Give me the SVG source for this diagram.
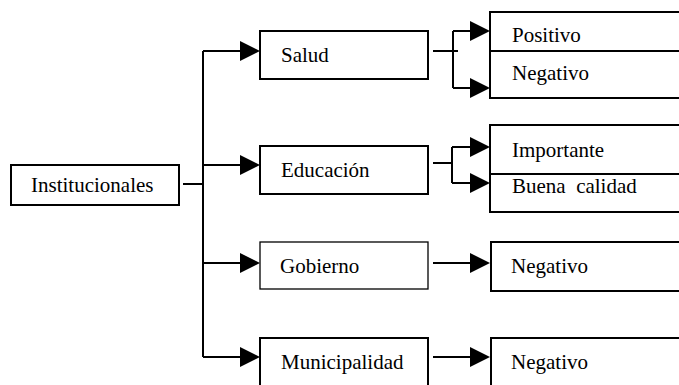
<svg xmlns="http://www.w3.org/2000/svg" width="679" height="385" viewBox="0 0 679 385">
<defs>
<style>
.box{fill:#fff;stroke:#000;stroke-width:2}
.thin{fill:#fff;stroke:#000;stroke-width:1.3}
.ln{fill:none;stroke:#000;stroke-width:2}
.ah{fill:#000}
.t{font-family:'Liberation Serif','Times New Roman',Times,'DejaVu Serif',serif;font-size:21px;fill:#000}
</style>
</defs>
<rect width="679" height="385" fill="#fff"/>
<g id="connectors">
<path class="ln" d="M183,184H203M203,51V357M203,51H242M203,165H242M203,263H242M203,357H242"/>
<path class="ln" d="M433,51H458M453,31V88M453,31H472M453,88H472"/>
<path class="ln" d="M433,163H452M452,147V183M452,147H472M452,183H472"/>
<path class="ln" d="M433,263H472M433,357H472"/>
<polygon class="ah" points="240,41 260,51 240,61"/>
<polygon class="ah" points="240,155 260,165 240,175"/>
<polygon class="ah" points="240,253 260,263 240,273"/>
<polygon class="ah" points="240,347 260,357 240,367"/>
<polygon class="ah" points="470,21 490,31 470,41"/>
<polygon class="ah" points="470,78 490,88 470,98"/>
<polygon class="ah" points="470,137 490,147 470,157"/>
<polygon class="ah" points="470,173 490,183 470,193"/>
<polygon class="ah" points="470,253 490,263 470,273"/>
<polygon class="ah" points="470,347 490,357 470,367"/>
</g>
<g class="t">
<g id="institucionales"><rect class="box" x="11" y="165" width="168" height="40"/><text x="31" y="192">Institucionales</text></g>
<g id="salud"><rect class="box" x="260" y="31" width="168" height="48"/><text x="281" y="62">Salud</text></g>
<g id="educacion"><rect class="box" x="260" y="146" width="168" height="48"/><text x="281" y="177">Educación</text></g>
<g id="gobierno"><rect class="thin" x="260" y="242" width="168" height="47"/><text x="280" y="273">Gobierno</text></g>
<g id="municipalidad"><rect class="box" x="260" y="338" width="168" height="60"/><text x="281" y="369">Municipalidad</text></g>
<g id="salud-result"><rect class="box" x="490" y="12" width="200" height="86"/><line class="ln" x1="490" y1="51" x2="690" y2="51"/><text x="512" y="42">Positivo</text><text x="512" y="80">Negativo</text></g>
<g id="educacion-result"><rect class="box" x="490" y="125" width="200" height="87"/><line class="ln" x1="490" y1="174" x2="690" y2="174"/><text x="512" y="157">Importante</text><text x="512" y="193" xml:space="preserve">Buena  calidad</text></g>
<g id="gobierno-result"><rect class="box" x="491" y="242" width="200" height="49"/><text x="511" y="273">Negativo</text></g>
<g id="municipalidad-result"><rect class="box" x="491" y="338" width="200" height="60"/><text x="511" y="369">Negativo</text></g>
</g>
</svg>
